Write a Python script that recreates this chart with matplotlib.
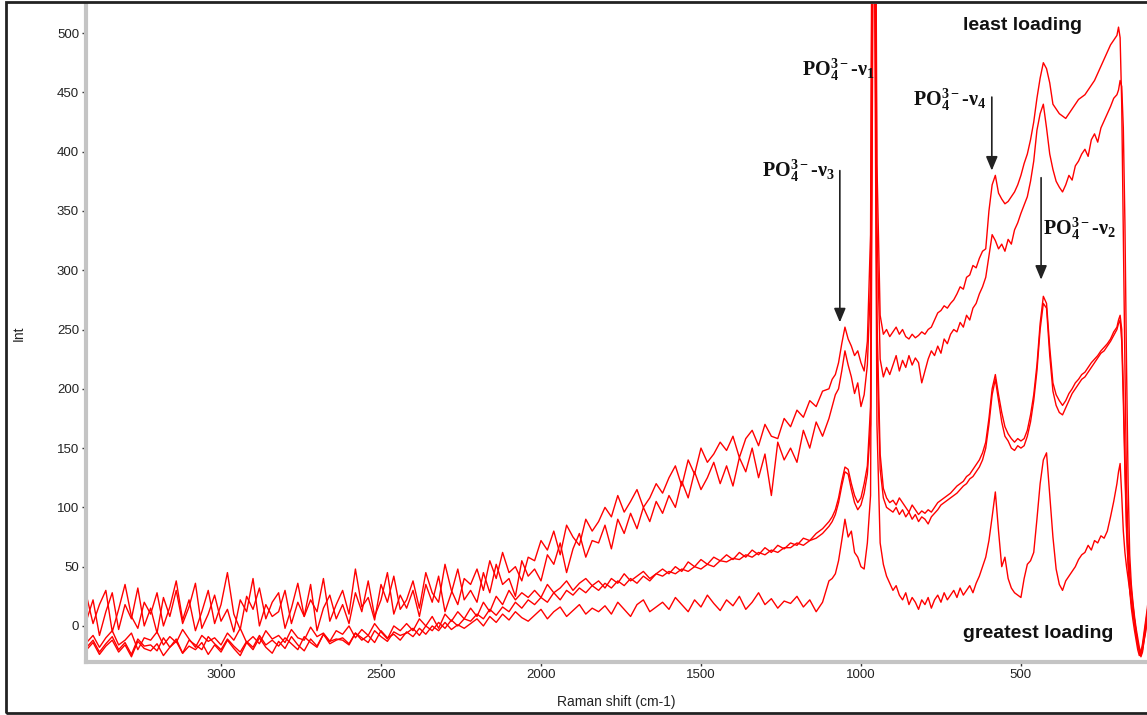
import numpy as np
import matplotlib
matplotlib.use('Agg')
import matplotlib.pyplot as plt
from matplotlib.patches import Rectangle
from matplotlib.ticker import MultipleLocator

plt.rcParams['font.family'] = ['Liberation Sans', 'DejaVu Sans']
plt.rcParams['mathtext.fontset'] = 'custom'
plt.rcParams['mathtext.rm'] = 'Liberation Serif:bold'
plt.rcParams['mathtext.it'] = 'Liberation Serif:bold'
plt.rcParams['mathtext.bf'] = 'Liberation Serif:bold'

# wavenumber grid (cm-1): coarse over the flat part, finer near the peaks
wn = np.concatenate([np.arange(3420, 1100, -20),
                     np.arange(1100, 200, -10),
                     np.arange(200, 85, -5)])

# spectrum 1 - least loading
sp1_a = [25, 2, 18, 30, -5, 14, 35, 8, -2, 20,
         10, 28, 0, 16, 38, 5, 22, -4, 12, 30,
         2, 18, 45, 10, -3, 25, 14, 32, 6, 20,
         28, -2, 15, 36, 8, 22, 12, 40, 4, 18,
         30, 10, 48, 16, 24, 5, 35, 20, 42, 14,
         22, 38, 15, 45, 28, 20, 52, 30, 18, 40,
         35, 48, 30, 55, 40, 62, 45, 50, 38, 58,
         55, 72, 64, 80, 60, 85, 75, 68, 90, 80,
         88, 100, 92, 110, 96, 105, 115, 100, 108, 120,
         112, 125, 135, 118, 140, 128, 150, 138, 145, 155,
         148, 160, 142, 158, 165, 152, 170, 160, 158, 175,
         168, 182, 176, 190, 185, 198]
sp1_b = [200, 208, 212, 222, 238, 252, 242, 236, 228, 232,
         222, 215, 240, 330, 980, 390, 262, 246, 250, 244,
         248, 252, 246, 250, 244, 242, 246, 243, 245, 248,
         246, 250, 252, 258, 264, 266, 270, 268, 272, 275,
         280, 286, 284, 294, 296, 304, 302, 310, 316, 318,
         350, 372, 380, 365, 360, 356, 358, 362, 366, 372,
         380, 390, 398, 410, 425, 445, 462, 475, 470, 458,
         440, 436, 432, 430, 428, 432, 436, 440, 444, 446,
         448, 452, 456, 460, 466, 472, 478, 484, 490, 494]
sp1_c = [498, 505, 496, 440, 330, 220, 120, 70, 45, 30, 18, 5,
         -5, -15, -22, -25, -20, -12, -5, 5, 15, 20, 25]

# spectrum 2
sp2_a = [5, 22, -8, 12, 28, -3, 18, 6, 32, 0,
         15, -6, 24, 8, 30, 2, 16, 36, -2, 10,
         26, 4, 14, -5, 22, 12, 40, 0, 18, 8,
         12, 30, 2, 20, 8, 35, -4, 15, 26, 6,
         18, 2, 28, 12, 38, 8, 22, 45, 10, 26,
         15, 30, 8, 35, 20, 42, 12, 28, 48, 22,
         30, 20, 45, 28, 52, 35, 40, 25, 55, 42,
         48, 38, 60, 52, 70, 45, 65, 78, 58, 72,
         70, 85, 65, 90, 78, 95, 82, 100, 88, 105,
         95, 110, 100, 122, 108, 130, 115, 125, 138, 120,
         135, 118, 142, 130, 150, 125, 145, 110, 155, 140,
         150, 138, 165, 150, 172, 160]
sp2_b = [175, 185, 195, 200, 215, 232, 220, 210, 196, 205,
         185, 195, 220, 290, 900, 340, 225, 210, 218, 212,
         220, 228, 215, 224, 218, 228, 220, 226, 222, 205,
         215, 225, 232, 228, 236, 230, 242, 238, 246, 250,
         248, 256, 252, 262, 258, 268, 272, 280, 286, 294,
         312, 330, 325, 318, 322, 316, 326, 322, 334, 340,
         348, 355, 362, 375, 392, 418, 432, 440, 420, 398,
         385, 375, 370, 366, 372, 380, 376, 388, 392, 398,
         402, 396, 410, 415, 408, 420, 426, 432, 438, 445]
sp2_c = [448, 452, 460, 455, 420, 340, 220, 120, 60, 35, 20, 8,
         -2, -10, -18, -22, -18, -10, -2, 8, 18, 22, 28]

# spectrum 3
sp3_a = [-14, -8, -18, -10, -4, -16, -12, -6, -20, -10,
         -12, -5, -16, -9, -14, -3, -11, -18, -8, -13,
         -10, -16, -6, -12, -2, -14, -9, -15, -4, -11,
         -8, -14, -3, -10, -12, -1, -9, -6, -13, -4,
         -7, 0, -10, -3, -8, 2, -5, -11, 0, -4,
         2, -4, 6, 0, 8, -2, 10, 4, 12, 6,
         15, 8, 20, 12, 25, 18, 30, 22, 28, 24,
         30, 24, 35, 28, 32, 38, 30, 36, 40, 34,
         38, 32, 40, 36, 44, 38, 42, 46, 40, 44,
         48, 44, 50, 46, 54, 50, 56, 52, 58, 55,
         60, 56, 62, 58, 64, 60, 66, 62, 68, 65,
         70, 68, 74, 72, 78, 82]
sp3_b = [88, 92, 98, 108, 122, 134, 132, 120, 110, 104,
         108, 120, 135, 185, 820, 260, 145, 116, 108, 104,
         106, 102, 108, 104, 100, 96, 102, 98, 94, 97,
         95, 98, 96, 100, 104, 106, 108, 110, 112, 115,
         118, 120, 122, 126, 128, 132, 136, 140, 146, 155,
         175, 200, 212, 195, 180, 168, 162, 158, 155, 158,
         156, 158, 165, 178, 195, 220, 255, 278, 272, 235,
         205, 195, 190, 186, 190, 196, 200, 205, 208, 212,
         214, 218, 222, 225, 228, 232, 235, 238, 242, 248]
sp3_c = [252, 258, 262, 250, 200, 140, 85, 55, 35, 20, 10, 2,
         -8, -16, -20, -24, -18, -8, 2, 12, 22, 30, 35]

# spectrum 4
sp4_a = [-18, -12, -22, -15, -9, -20, -14, -24, -11, -17,
         -16, -21, -10, -18, -13, -23, -12, -16, -20, -9,
         -15, -20, -11, -17, -22, -13, -18, -8, -16, -12,
         -17, -10, -15, -20, -9, -14, -18, -7, -13, -11,
         -12, -16, -6, -10, -14, -4, -9, -13, -5, -8,
         -6, -2, -8, 0, -4, 3, -2, 5, 0, 6,
         4, 10, 6, 14, 9, 16, 12, 20, 15, 22,
         18, 24, 20, 28, 22, 30, 26, 32, 28, 34,
         30, 36, 32, 38, 34, 40, 36, 42, 38, 44,
         42, 46, 44, 48, 46, 50, 48, 52, 50, 55,
         54, 57, 56, 60, 58, 62, 60, 64, 62, 66,
         66, 70, 68, 72, 74, 78]
sp4_b = [84, 88, 94, 104, 118, 130, 128, 115, 104, 98,
         102, 112, 128, 170, 760, 235, 132, 108, 100, 98,
         96, 100, 94, 98, 92, 96, 90, 94, 88, 92,
         90, 86, 92, 95, 98, 102, 104, 106, 108, 110,
         112, 115, 118, 120, 124, 126, 130, 134, 140, 150,
         170, 195, 208, 190, 172, 160, 156, 150, 148, 152,
         150, 152, 160, 172, 190, 215, 250, 272, 268, 228,
         198, 186, 180, 178, 184, 190, 196, 200, 204, 208,
         210, 214, 218, 222, 226, 230, 232, 236, 240, 245]
sp4_c = [250, 255, 258, 240, 190, 130, 80, 50, 30, 15, 5, -4,
         -12, -20, -25, -22, -15, -5, 5, 15, 28, 36, 40]

# spectrum 5 - greatest loading
sp5_a = [-20, -14, -24, -17, -12, -22, -16, -26, -13, -19,
         -21, -15, -25, -18, -11, -23, -17, -20, -14, -24,
         -16, -22, -12, -19, -25, -14, -20, -10, -18, -23,
         -13, -19, -9, -16, -21, -11, -17, -7, -15, -12,
         -10, -15, -6, -12, -8, -14, -4, -10, -7, -12,
         -5, -9, -2, -7, 0, -4, 3, -3, 1, -2,
         2, 6, 0, 8, 3, 10, 5, 12, 7, 4,
         9, 14, 6, 12, 16, 8, 13, 18, 10, 15,
         12, 17, 10, 20, 14, 8, 18, 22, 12, 16,
         20, 14, 24, 18, 12, 22, 16, 26, 19, 13,
         22, 17, 25, 14, 20, 28, 18, 23, 15, 21,
         19, 25, 16, 22, 12, 20]
sp5_b = [38, 40, 44, 55, 72, 90, 75, 80, 62, 58,
         50, 48, 70, 110, 680, 170, 70, 52, 42, 36,
         30, 34, 26, 22, 28, 18, 24, 20, 14, 22,
         18, 24, 15, 22, 26, 20, 28, 22, 26, 30,
         24, 32, 26, 30, 34, 28, 36, 42, 50, 58,
         72, 92, 113, 80, 50, 58, 40, 32, 28, 26,
         24, 40, 52, 55, 62, 90, 120, 140, 146, 110,
         75, 48, 35, 30, 38, 42, 46, 50, 56, 60,
         62, 68, 64, 72, 70, 76, 74, 80, 92, 105]
sp5_c = [120, 130, 137, 110, 80, 62, 50, 40, 30, 20, 12, 5,
         -5, -14, -20, -26, -22, -12, -2, 8, 18, 25, 30]

spectra = [sp1_a + sp1_b + sp1_c,
           sp2_a + sp2_b + sp2_c,
           sp3_a + sp3_b + sp3_c,
           sp4_a + sp4_b + sp4_c,
           sp5_a + sp5_b + sp5_c]

fig = plt.figure(figsize=(11.47, 7.15), dpi=100)
ax = fig.add_axes([86 / 1147, 53 / 715, 1 - 86 / 1147, 658 / 715])

for s in spectra:
    ax.plot(wn, s, color='#ff0000', lw=1.0)

ax.set_xlim(3422, 106)
ax.set_ylim(-30.4, 524.5)

ax.xaxis.set_major_locator(MultipleLocator(500))
ax.xaxis.set_minor_locator(MultipleLocator(100))
ax.yaxis.set_major_locator(MultipleLocator(50))
ax.yaxis.set_minor_locator(MultipleLocator(10))
ax.tick_params(which='major', direction='out', length=3, width=1,
               color='#333333', labelsize=9.5, labelcolor='#222222', pad=2)
ax.tick_params(which='minor', direction='inout', length=2, width=1, color='#333333')

for side in ['top', 'right']:
    ax.spines[side].set_visible(False)
for side in ['left', 'bottom']:
    ax.spines[side].set_color('#c4c4c4')
    ax.spines[side].set_linewidth(3)

ax.set_xlabel('Raman shift (cm-1)', fontsize=10, color='#222222', labelpad=10)
ax.set_ylabel('Int', fontsize=10, color='#222222', labelpad=22)

# band labels
lab = dict(family=['Liberation Serif', 'DejaVu Serif'], fontweight='bold',
           fontsize=14.5, va='baseline', ha='left', color='#111111')
ax.text(1184, 464, r'PO$_4^{3-}$-ν$_1$', **lab)
ax.text(1309, 378.5, r'PO$_4^{3-}$-ν$_3$', **lab)
ax.text(837, 439, r'PO$_4^{3-}$-ν$_4$', **lab)
ax.text(431, 330, r'PO$_4^{3-}$-ν$_2$', **lab)

arr = dict(arrowstyle='-|>,head_length=0.6,head_width=0.25', color='#222222',
           lw=1.2, mutation_scale=14, shrinkA=0, shrinkB=0)
ax.annotate('', xy=(1066, 256), xytext=(1066, 384), arrowprops=arr)
ax.annotate('', xy=(591, 384), xytext=(591, 446), arrowprops=arr)
ax.annotate('', xy=(437, 292), xytext=(437, 378), arrowprops=arr)

ax.text(681, 506.7, 'least loading', fontsize=14, fontweight='bold',
        ha='left', va='center', color='#111111')
ax.text(681, -6.7, 'greatest loading', fontsize=14, fontweight='bold',
        ha='left', va='center', color='#111111')

# outer frame of the screenshot
fig.patches.append(Rectangle((6 / 1147, 2 / 715), 1.0, 711 / 715, transform=fig.transFigure,
                             fill=False, edgecolor='#222222', lw=2))

fig.savefig('out.png', dpi=100)
